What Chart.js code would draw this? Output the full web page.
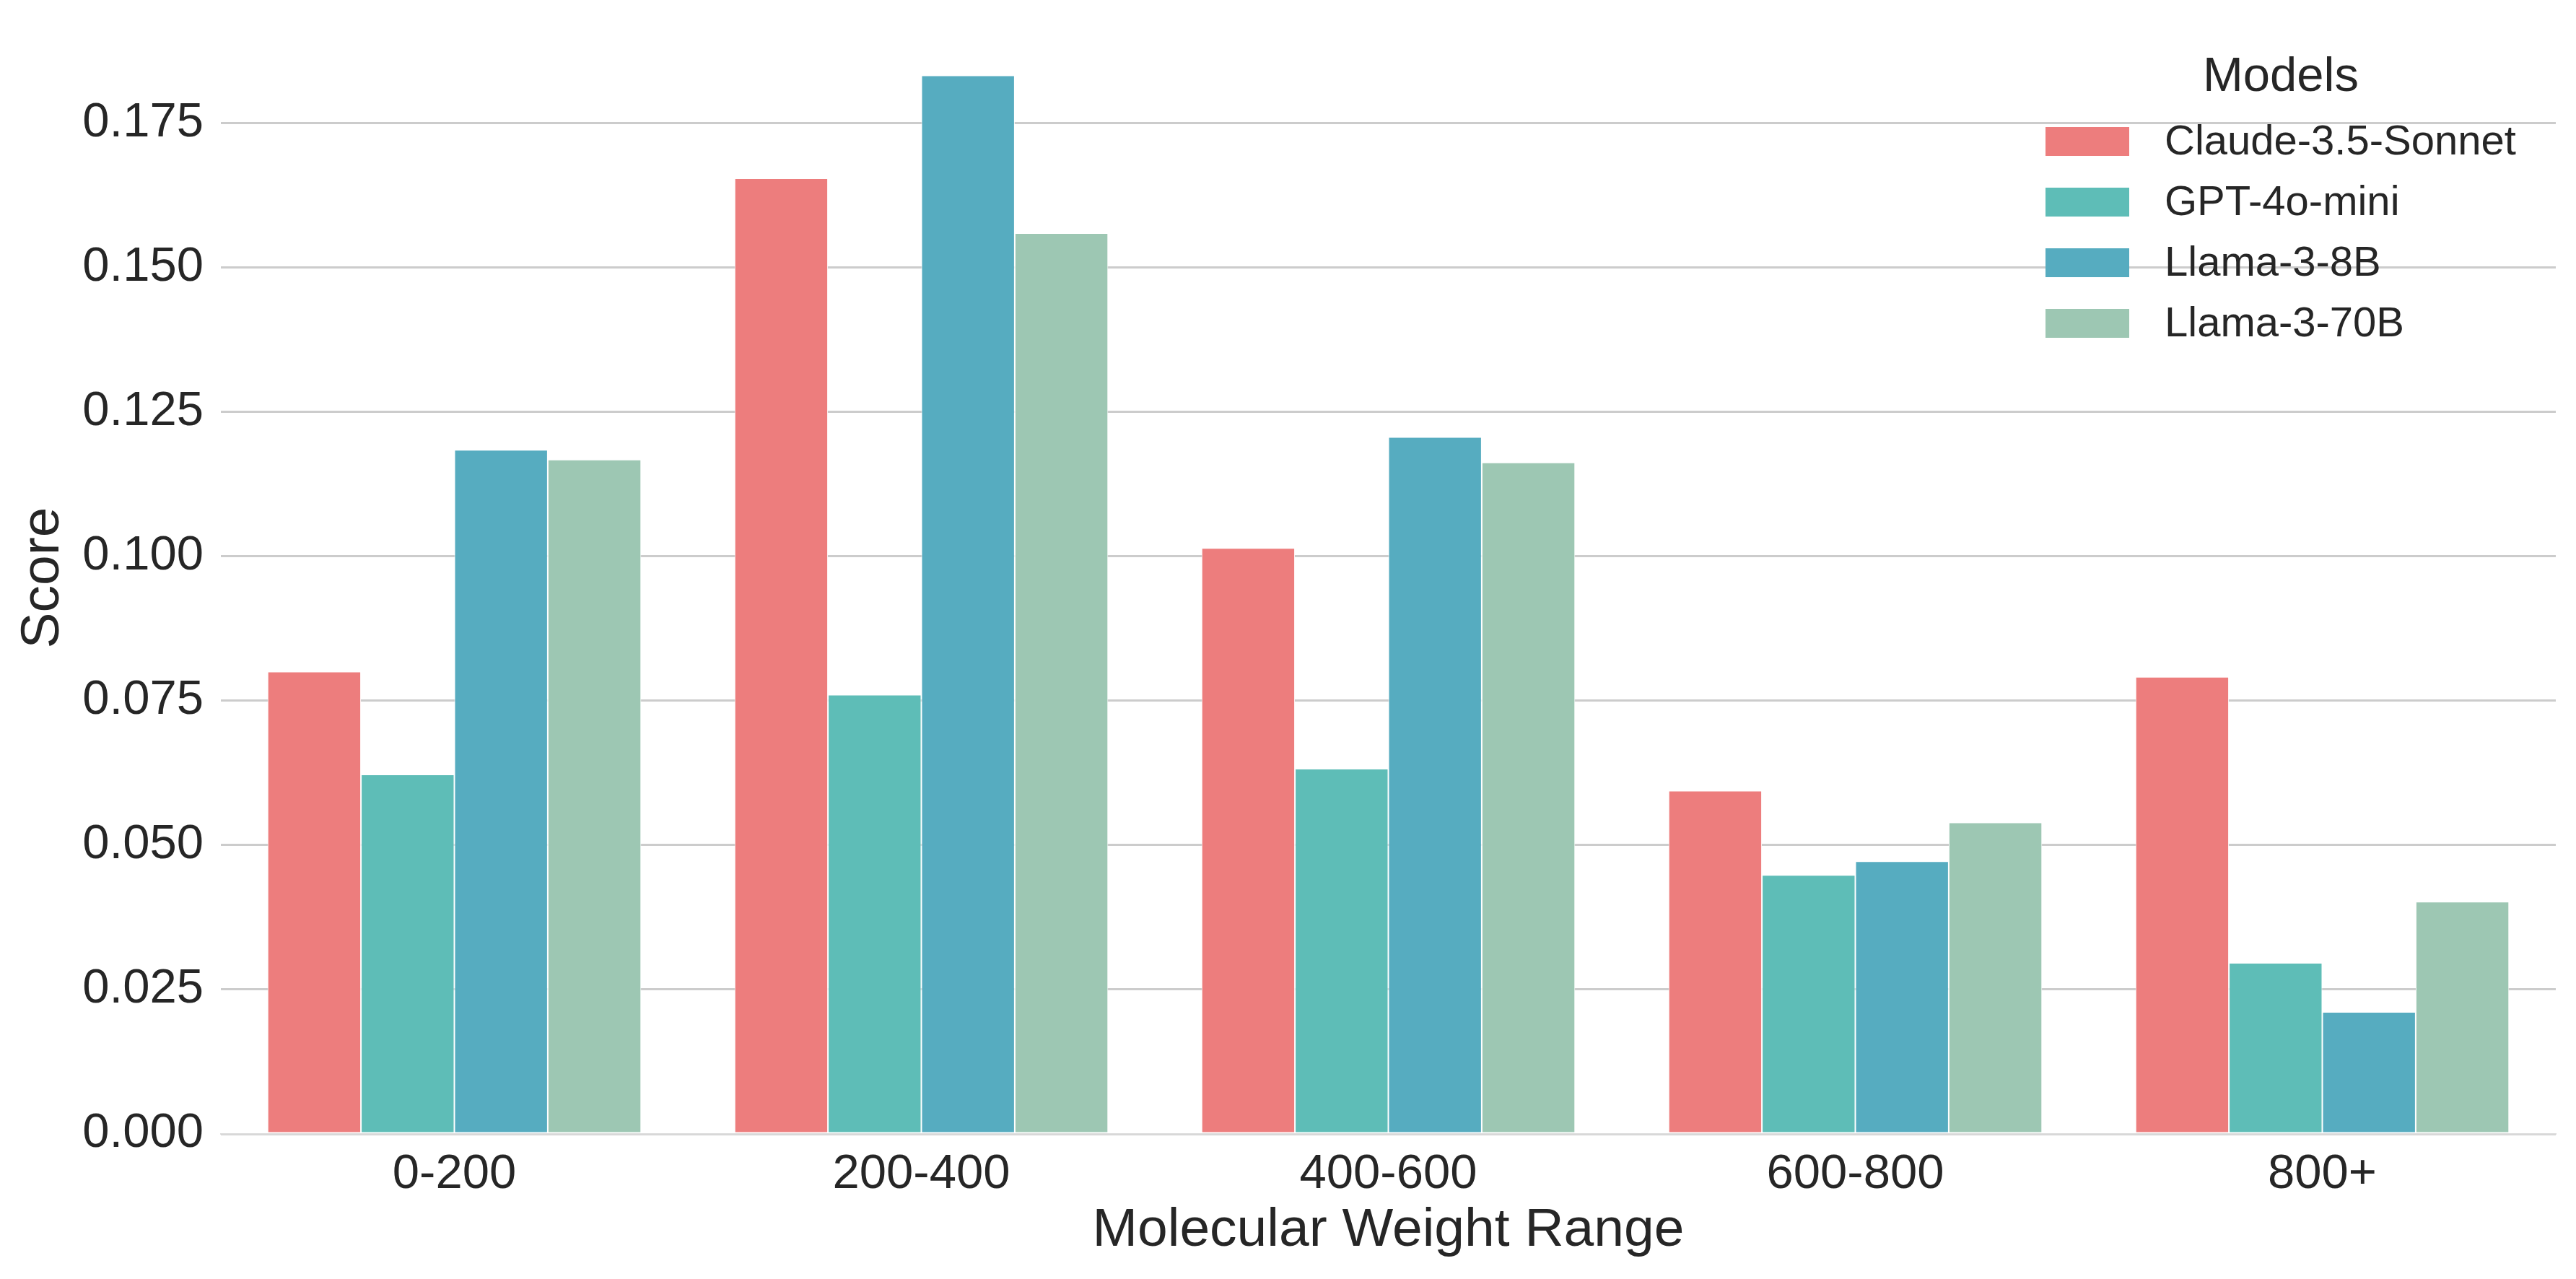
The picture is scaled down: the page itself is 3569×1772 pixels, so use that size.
<!DOCTYPE html>
<html>
<head>
<meta charset="utf-8">
<script src="https://cdn.jsdelivr.net/npm/chart.js@4/dist/chart.umd.min.js"></script>
<style>
  html, body { margin: 0; padding: 0; background: #ffffff; }
  #wrap { width: 3569px; height: 1772px; }
</style>
</head>
<body>
<div id="wrap"><canvas id="c" width="3569" height="1772"></canvas></div>
<script>
const categories = ["0-200", "200-400", "400-600", "600-800", "800+"];
const seriesNames = ["Claude-3.5-Sonnet", "GPT-4o-mini", "Llama-3-8B", "Llama-3-70B"];
const claudeScores = [0.0800, 0.1654, 0.1014, 0.0594, 0.0791];
const gptMiniScores = [0.0622, 0.0760, 0.0632, 0.0448, 0.0296];
const llama8bScores = [0.1184, 0.1832, 0.1206, 0.0472, 0.0211];
const llama70bScores = [0.1167, 0.1559, 0.1162, 0.0539, 0.0402];
const yTickStep = 0.025;
const yMax = 0.1925;
const legendTitle = "Models";
const xTitle = "Molecular Weight Range";
const yTitle = "Score";

const colors = ["#ED7D7D", "#5EBDB7", "#56ACC0", "#9DC7B3"];
const FONT = "'Liberation Sans', Arial, sans-serif";
const TEXT = "#262626";

const seriesValues = [claudeScores, gptMiniScores, llama8bScores, llama70bScores];

const legendPlugin = {
  id: 'customLegend',
  afterDraw(chart) {
    const ctx = chart.ctx;
    ctx.save();
    ctx.fillStyle = TEXT;
    ctx.font = "67px " + FONT;
    ctx.textAlign = "center";
    ctx.textBaseline = "middle";
    ctx.fillText(legendTitle, 3160, 108);
    ctx.font = "58px " + FONT;
    ctx.textAlign = "left";
    chart.data.datasets.forEach((ds, i) => {
      const cy = 196 + i * 84;
      ctx.fillStyle = ds.backgroundColor;
      ctx.fillRect(2834, cy - 20, 116, 40);
      ctx.fillStyle = TEXT;
      ctx.fillText(ds.label, 2999, cy + 2);
    });
    ctx.restore();
  }
};

new Chart(document.getElementById('c'), {
  type: 'bar',
  data: {
    labels: categories,
    datasets: seriesNames.map((name, i) => ({
      label: name,
      data: seriesValues[i],
      backgroundColor: colors[i],
      borderColor: "#ffffff",
      borderWidth: 1,
      borderSkipped: false,
      categoryPercentage: 0.8,
      barPercentage: 1.0
    }))
  },
  options: {
    responsive: false,
    animation: false,
    devicePixelRatio: 1,
    layout: { padding: { top: 30, right: 28, left: 0, bottom: 0 } },
    plugins: {
      legend: { display: false },
      tooltip: { enabled: false }
    },
    scales: {
      x: {
        grid: { display: false, drawTicks: false },
        border: { display: true, color: "#dddddd", width: 2 },
        ticks: { color: TEXT, font: { family: FONT, size: 67 }, padding: 16 },
        title: { display: true, text: xTitle, color: TEXT, font: { family: FONT, size: 75 }, padding: { top: 0, bottom: 22 } },
        afterFit(scale) { scale.height = 201; scale.paddingLeft = 0; scale.paddingRight = 0; }
      },
      y: {
        min: 0,
        max: yMax,
        grid: { color: "#cccccc", lineWidth: 3, drawTicks: false },
        border: { display: false },
        ticks: {
          stepSize: yTickStep,
          color: TEXT,
          font: { family: FONT, size: 67 },
          padding: 24,
          callback: (v) => v.toFixed(3)
        },
        afterBuildTicks(scale) {
          scale.ticks = scale.ticks.filter(t => Math.abs(t.value / yTickStep - Math.round(t.value / yTickStep)) < 1e-6);
        },
        title: { display: true, text: yTitle, color: TEXT, font: { family: FONT, size: 75 }, padding: { top: 15, bottom: 0 } },
        afterFit(scale) { scale.width = 306; scale.paddingTop = 0; scale.paddingBottom = 0; }
      }
    }
  },
  plugins: [legendPlugin]
});
</script>
</body>
</html>
